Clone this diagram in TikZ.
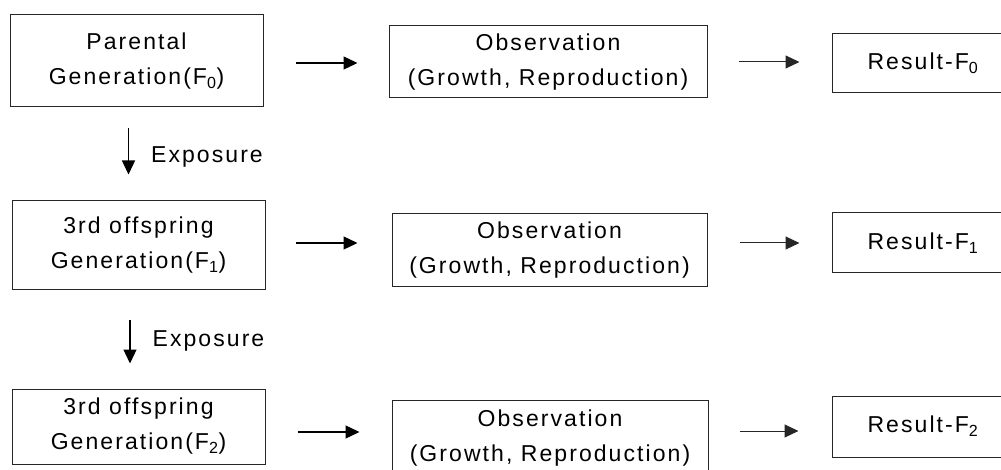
\documentclass[tikz,border=0pt]{standalone}
\usepackage{fontspec}
\setmainfont{Liberation Sans}[LetterSpace=9]
\usetikzlibrary{arrows.meta,calc}
\tikzset{
  box/.style={draw=black!85, line width=1pt, inner sep=0pt, align=center,
    font=\fontsize{23}{35}\selectfont},
  arr/.style={line width=1.3pt, -{Triangle[length=14pt,width=13pt]}},
  arrthin/.style={line width=1pt, black!85, -{Triangle[length=14pt,width=13pt]}},
  lbl/.style={font=\fontsize{23}{28}\selectfont, anchor=west, inner sep=0pt}
}
\begin{document}
\begin{tikzpicture}[x=1pt,y=-1pt]
\useasboundingbox (0,0) rectangle (1001,470);
\clip (0,0) rectangle (1001,470);
% row 1
\node[box, minimum width=253pt, minimum height=92pt] (b1) at (136.5,61) {Parental\\Generation(F\textsubscript{0})};
\node[box, minimum width=318pt, minimum height=72pt] (o1) at (548,62) {Observation\\(Growth, Reproduction)};
\node[box, minimum width=182pt, minimum height=59pt] (r1) at (923,63.5) {Result-F\textsubscript{0}};
% row 2
\node[box, minimum width=253pt, minimum height=89pt] (b2) at (138.5,245.5) {3rd offspring\\Generation(F\textsubscript{1})};
\node[box, minimum width=315pt, minimum height=73pt] (o2) at (549.5,250.5) {Observation\\(Growth, Reproduction)};
\node[box, minimum width=182pt, minimum height=60pt] (r2) at (923,243) {Result-F\textsubscript{1}};
% row 3
\node[box, minimum width=253pt, minimum height=75pt] (b3) at (138.5,426.5) {3rd offspring\\Generation(F\textsubscript{2})};
\node[box, minimum width=316pt, minimum height=76pt] (o3) at (550,438) {Observation\\(Growth, Reproduction)};
\node[box, minimum width=182pt, minimum height=61pt] (r3) at (923,426.5) {Result-F\textsubscript{2}};
% horizontal arrows
\draw[arr, shorten <=32pt, shorten >=31pt] ([yshift=-2pt]b1.east) -- ([yshift=-1pt]o1.west);
\draw[arrthin, shorten <=31pt, shorten >=32pt] (o1.east) -- (o1.east -| r1.west);
\draw[arr, shorten <=30pt, shorten >=34pt] ([yshift=2.5pt]b2.east) -- ([yshift=7.5pt]o2.west);
\draw[arrthin, shorten <=32pt, shorten >=32pt] (o2.east |- r2.west) -- (r2.west);
\draw[arr, shorten <=32pt, shorten >=32pt] ([yshift=-5.5pt]b3.east) -- ([yshift=6pt]o3.west);
\draw[arrthin, shorten <=31pt, shorten >=33pt] ([yshift=7pt]o3.east) -- ([yshift=-4.5pt]r3.west);
% exposure arrows
\draw[arr, shorten <=21pt, shorten >=26pt] ([xshift=-8pt]b1.south) -- ([xshift=-10pt]b2.north)
  node[lbl, pos=0.5, xshift=22pt, yshift=-3pt] {Exposure};
\draw[arr, shorten <=29pt, shorten >=25pt] ([xshift=-8.5pt]b2.south) -- ([xshift=-8.5pt]b3.north)
  node[lbl, pos=0.5, xshift=22pt, yshift=-1pt] {Exposure};
\end{tikzpicture}
\end{document}
